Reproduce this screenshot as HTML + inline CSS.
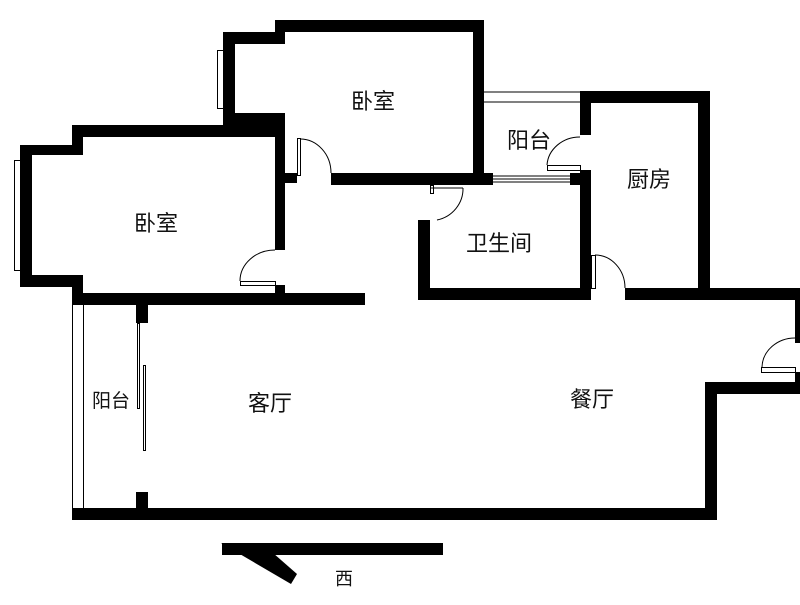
<!DOCTYPE html>
<html><head><meta charset="utf-8"><style>
body{margin:0;background:#fff}
text{font-family:"Liberation Sans","Noto Sans CJK SC",sans-serif;font-size:22px;fill:#111}
</style></head><body>
<svg width="800" height="600" viewBox="0 0 800 600" xmlns="http://www.w3.org/2000/svg">
<g fill="#000">
<rect x="275" y="20" width="209" height="12"/>
<rect x="223" y="32" width="62" height="12"/>
<rect x="275" y="20" width="10" height="24"/>
<rect x="223" y="32" width="12" height="93"/>
<rect x="223" y="113" width="62" height="24"/>
<rect x="473" y="20" width="11" height="165"/>
<rect x="331" y="173" width="162" height="12"/>
<rect x="285" y="173" width="12" height="10"/>
<rect x="72" y="125" width="213" height="12"/>
<rect x="72" y="125" width="11" height="30"/>
<rect x="20" y="145" width="63" height="10"/>
<rect x="20" y="145" width="12" height="140"/>
<rect x="20" y="275" width="63" height="12"/>
<rect x="72" y="275" width="11" height="30"/>
<rect x="275" y="113" width="10" height="137"/>
<rect x="275" y="285" width="10" height="15"/>
<rect x="72" y="293" width="293" height="12"/>
<rect x="580" y="91" width="130" height="12"/>
<rect x="580" y="91" width="11" height="44"/>
<rect x="580" y="170" width="11" height="130"/>
<rect x="570" y="173" width="21" height="12"/>
<rect x="698" y="91" width="12" height="205"/>
<rect x="418" y="220" width="12" height="80"/>
<rect x="418" y="288" width="173" height="12"/>
<rect x="625" y="288" width="175" height="12"/>
<rect x="795" y="288" width="5" height="55"/>
<rect x="705" y="382" width="95" height="12"/>
<rect x="795" y="372" width="5" height="15"/>
<rect x="705" y="382" width="12" height="138"/>
<rect x="72" y="508" width="645" height="12"/>
<rect x="136" y="305" width="12" height="18"/>
<rect x="136" y="492" width="12" height="18"/>
<rect x="222" y="543" width="221" height="12"/>
<polygon points="221,543 265,546 297,574 291,584"/>
</g>
<g fill="none" stroke="#000" stroke-width="1">
<rect x="217.5" y="50.5" width="6" height="58"/>
<line x1="229" y1="57" x2="229" y2="100"/><line x1="232" y1="57" x2="232" y2="100"/>
<rect x="224.5" y="57.5" width="10" height="4"/><rect x="224.5" y="96.5" width="10" height="4"/>
<rect x="14.5" y="160.5" width="6" height="110"/>
<line x1="25" y1="168" x2="25" y2="262"/><line x1="29" y1="168" x2="29" y2="262"/>
<rect x="20.5" y="168.5" width="11" height="5"/><rect x="20.5" y="258.5" width="11" height="5"/>
<rect x="297.5" y="138.5" width="3" height="37"/>
<path d="M300,139 A31,34 0 0 1 331,173"/>
<rect x="240.5" y="281.5" width="35" height="4"/>
<path d="M240,281 A35,31 0 0 1 275,250"/>
<rect x="547.5" y="165.5" width="33" height="5"/>
<path d="M547,165 A33,30 0 0 1 580,137"/>
<rect x="430.5" y="185.5" width="3" height="8"/><line x1="430" y1="188" x2="463" y2="188"/>
<path d="M463,188 A33,32 0 0 1 437,220"/>
<rect x="591.5" y="255.5" width="4" height="33"/>
<path d="M595,255 A30,33 0 0 1 625,288"/>
<rect x="761.5" y="367.5" width="34" height="5"/>
<path d="M762,367 A33,30 0 0 1 795,338"/>
<line x1="484" y1="92" x2="580" y2="92"/><line x1="484" y1="102" x2="580" y2="102"/>
<line x1="493" y1="176" x2="570" y2="176"/><line x1="493" y1="179" x2="570" y2="179"/><line x1="493" y1="182" x2="570" y2="182"/>
<line x1="72.5" y1="305" x2="72.5" y2="510"/><line x1="83.5" y1="305" x2="83.5" y2="510"/>
<rect x="137.5" y="323.5" width="2" height="85"/>
<rect x="143.5" y="365.5" width="2" height="85"/>
</g>
<text x="351" y="109">卧室</text>
<text x="134" y="231">卧室</text>
<text x="507" y="148">阳台</text>
<text x="627" y="187">厨房</text>
<text x="466" y="251">卫生间</text>
<text x="92" y="407" style="font-size:19px">阳台</text>
<text x="248" y="411">客厅</text>
<text x="570" y="407">餐厅</text>
<text x="335" y="585" style="font-size:18px">西</text>
</svg>
</body></html>
